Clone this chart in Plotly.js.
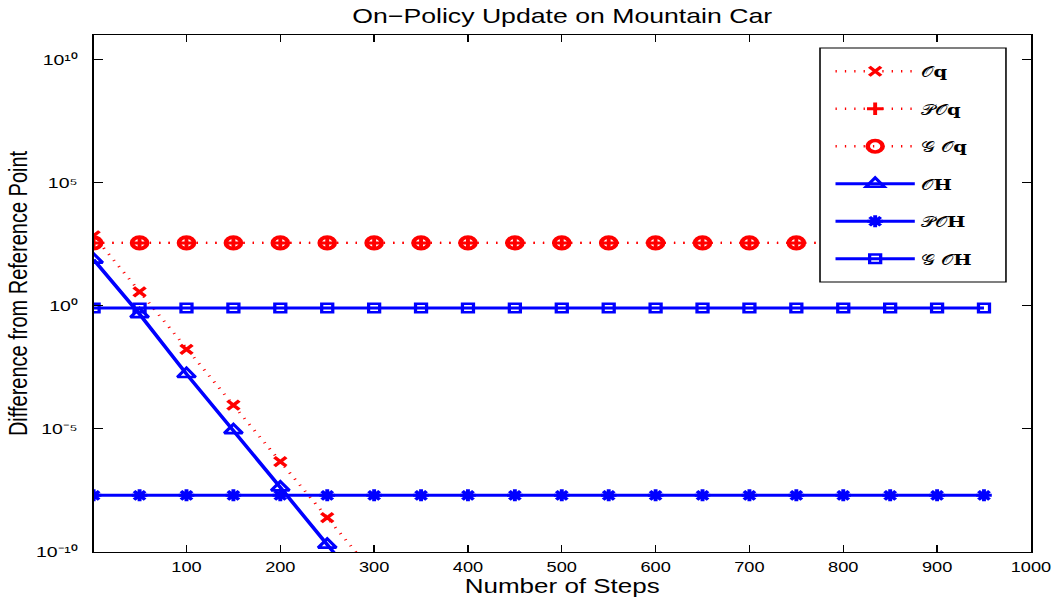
<!DOCTYPE html>
<html>
<head>
<meta charset="utf-8">
<script src="https://cdn.plot.ly/plotly-3.0.1.min.js"></script>
<style>
  html, body { margin: 0; padding: 0; background: #ffffff; overflow: hidden; }
  #wrap { width: 1057px; height: 602px; overflow: hidden; }
  /* the figure is laid out narrow and widened horizontally as a whole */
  #chart { width: 813px; height: 602px; transform: scaleX(1.3); transform-origin: 0 0; }
</style>
</head>
<body>
<div id="wrap"><div id="chart"></div></div>
<script>
// Number of steps at which each measurement was taken
const steps = [1, 50, 100, 150, 200, 250, 300, 350, 400, 450, 500, 550, 600, 650, 700, 750, 800, 850, 900, 950];

// Difference from the reference point, one array per update rule
const diffOq  = [700, 3.7, 1.7e-2, 9.2e-5, 4.7e-7, 2.5e-9, 1.3e-11];
const diffPOq = [360, 360, 360, 360, 360, 360, 360, 360, 360, 360, 360, 360, 360, 360, 360, 360, 360, 360, 360, 360];
const diffGOq = [360, 360, 360, 360, 360, 360, 360, 360, 360, 360, 360, 360, 360, 360, 360, 360, 360, 360, 360, 360];
const diffOH  = [75, 0.46, 1.7e-3, 8.9e-6, 4.2e-8, 2.0e-10, 1.0e-12];
const diffPOH = [2e-8, 2e-8, 2e-8, 2e-8, 2e-8, 2e-8, 2e-8, 2e-8, 2e-8, 2e-8, 2e-8, 2e-8, 2e-8, 2e-8, 2e-8, 2e-8, 2e-8, 2e-8, 2e-8, 2e-8];
const diffGOH = [0.81, 0.81, 0.81, 0.81, 0.81, 0.81, 0.81, 0.81, 0.81, 0.81, 0.81, 0.81, 0.81, 0.81, 0.81, 0.81, 0.81, 0.81, 0.81, 0.81];

// Legend names
const names = ['\u{1D4AA}<b>q</b>', '\u{1D4AB}\u{1D4AA}<b>q</b>', '\u{1D4A2} \u{1D4AA}<b>q</b>',
               '\u{1D4AA}<b>H</b>', '\u{1D4AB}\u{1D4AA}<b>H</b>', '\u{1D4A2} \u{1D4AA}<b>H</b>'];

// Axis ticks
const xTickStep = 100;
const yTicks = [1e-10, 1e-5, 1, 1e5, 1e10];
const yTickText = ['10\u207B\u00B9\u2070', '10\u207B\u2075', '10\u2070', '10\u2075', '10\u00B9\u2070'];

const RED = '#ff0000', BLUE = '#0000ff';
const redLine = { color: RED, width: 2.4, dash: '1px,6.2px' };
const blueLine = { color: BLUE, width: 3 };

function series(y, name, line, symbol, size, lw, idx) {
  return {
    x: steps.slice(0, y.length), y: y, name: name, type: 'scatter', mode: 'lines+markers',
    line: line, legendgroup: 'g' + idx,
    marker: { symbol: symbol, size: size, color: line.color, line: { color: line.color, width: lw } },
    cliponaxis: true, hoverinfo: 'skip'
  };
}

const traces = [
  series(diffOq,  names[0], redLine,  'x-thin-open',      9,    3,   0),
  series(diffPOq, names[1], redLine,  'cross-thin-open',  9,    3,   1),
  series(diffGOq, names[2], redLine,  'circle-open',      11.5, 3.6, 2),
  series(diffOH,  names[3], blueLine, 'triangle-up-open', 12,   2.7, 3),
  series(diffPOH, names[4], blueLine, 'asterisk-open',    10,   3,   4),
  series(diffGOH, names[5], blueLine, 'square-open',      8.5,  2.5, 5)
];

const sans = 'Liberation Sans, Arial, sans-serif';
const axisFont = { family: sans, size: 14, color: '#000' };

// legend frame in paper coordinates
const box = { x0: 0.775, x1: 0.9734, y0: 0.5222, y1: 0.9749 };

const layout = {
  width: 813, height: 602,
  margin: { l: 72, r: 20, t: 35, b: 50 },
  paper_bgcolor: '#ffffff', plot_bgcolor: '#ffffff',
  showlegend: true,
  title: {
    text: 'On\u2212Policy Update on Mountain Car',
    font: { family: sans, size: 20.5, color: '#000' },
    x: 0.5, xref: 'paper', xanchor: 'center', y: 0.973, yref: 'container', yanchor: 'middle'
  },
  xaxis: {
    range: [1, 1000], tick0: 0, dtick: xTickStep,
    ticks: 'inside', ticklen: 7, tickwidth: 1, tickcolor: '#000',
    showline: true, linecolor: '#000', linewidth: 1.3, mirror: 'allticks',
    showgrid: false, zeroline: false, tickfont: axisFont, ticklabelstandoff: 2,
    title: { text: 'Number of Steps', font: { family: sans, size: 20, color: '#000' }, standoff: 0 }
  },
  yaxis: {
    type: 'log', range: [-10, 11], tickvals: yTicks, ticktext: yTickText,
    ticks: 'inside', ticklen: 7, tickwidth: 1, tickcolor: '#000',
    showline: true, linecolor: '#000', linewidth: 1.3, mirror: 'allticks',
    showgrid: false, zeroline: false, tickfont: { family: sans, size: 15, color: '#000' }, ticklabelstandoff: 8,
    title: { text: 'Difference from Reference Point', font: { family: sans, size: 20, color: '#000' }, standoff: 1 }
  },
  shapes: [{
    type: 'rect', xref: 'paper', yref: 'paper', layer: 'above',
    x0: box.x0, x1: box.x1, y0: box.y0, y1: box.y1,
    fillcolor: '#ffffff', line: { color: '#000', width: 1.2 }
  }],
  legend: {
    x: 0.7846, y: 0.9613, xanchor: 'left', yanchor: 'top',
    bgcolor: 'rgba(0,0,0,0)', borderwidth: 0,
    font: { family: 'DejaVu Serif, Liberation Serif, serif', size: 15, color: '#000' },
    tracegroupgap: 15, itemwidth: 61
  }
};

Plotly.newPlot('chart', traces, layout, { displayModeBar: false, staticPlot: true });
</script>
</body>
</html>
